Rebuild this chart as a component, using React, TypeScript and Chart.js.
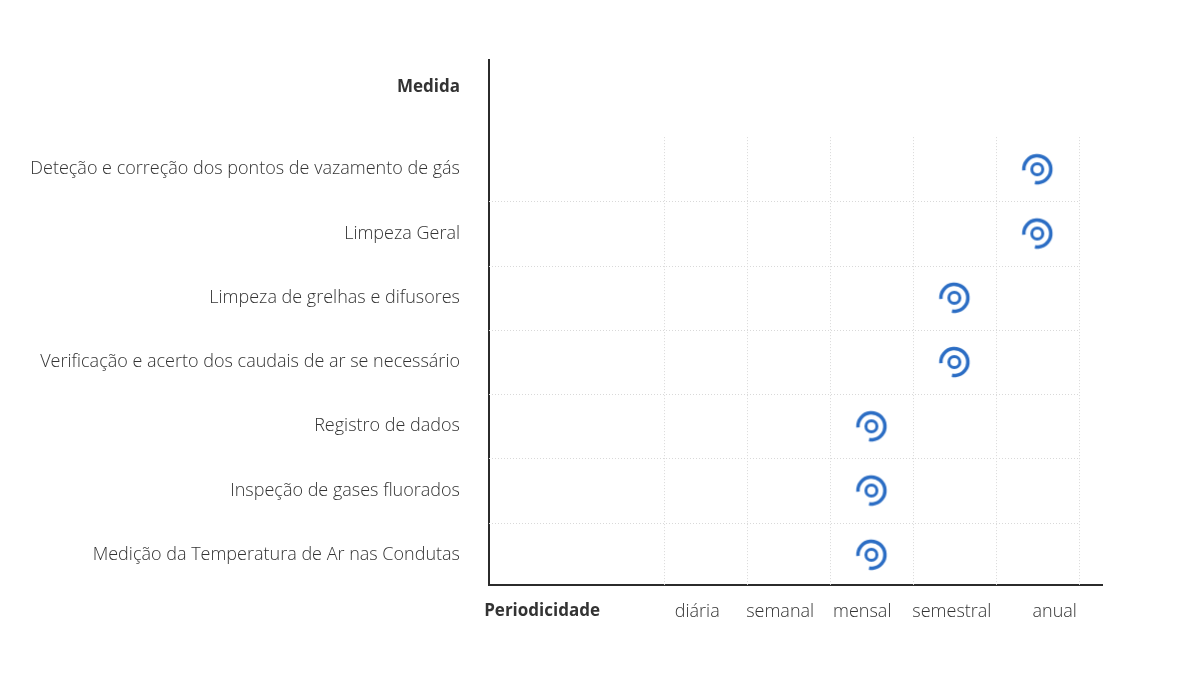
import React, { useEffect, useRef } from "react";
import { Chart, registerables } from "chart.js";

Chart.register(...registerables);

const periodicities = ["diária", "semanal", "mensal", "semestral", "anual"];
const measures = [
  "Deteção e correção dos pontos de vazamento de gás",
  "Limpeza Geral",
  "Limpeza de grelhas e difusores",
  "Verificação e acerto dos caudais de ar se necessário",
  "Registro de dados",
  "Inspeção de gases fluorados",
  "Medição da Temperatura de Ar nas Condutas",
];
const measureFrequency = ["anual", "anual", "semestral", "semestral", "mensal", "mensal", "mensal"];
const yHeader = "Medida";
const xHeader = "Periodicidade";

const BLUE = "#2B6DC4";
const TEXT = "#333333";
const FONT = "'Open Sans', Lato, sans-serif";
const FS = 18;

function makeMarker(): HTMLCanvasElement {
  const c = document.createElement("canvas");
  c.width = 36;
  c.height = 36;
  const g = c.getContext("2d")!;
  g.strokeStyle = BLUE;
  g.lineWidth = 3.5;
  g.beginPath();
  g.arc(18, 18, 13.5, (175 * Math.PI) / 180, (460 * Math.PI) / 180);
  g.stroke();
  g.lineWidth = 3;
  g.beginPath();
  g.arc(18, 18, 5.5, 0, Math.PI * 2);
  g.stroke();
  return c;
}

const gridPlugin = {
  id: "dottedGrid",
  beforeDatasetsDraw(chart: any) {
    const { ctx, scales } = chart;
    const xs = scales.x;
    const ys = scales.y;
    ctx.save();
    ctx.strokeStyle = "#d9d9d9";
    ctx.lineWidth = 1;
    ctx.setLineDash([1, 2]);
    const yTop = ys.getPixelForValue(-0.5);
    const yBot = ys.bottom;
    for (let i = 0; i <= periodicities.length; i++) {
      const px = Math.round(xs.getPixelForValue(i)) + 0.5;
      ctx.beginPath();
      ctx.moveTo(px, yTop);
      ctx.lineTo(px, yBot);
      ctx.stroke();
    }
    const xL = xs.left;
    const xR = xs.getPixelForValue(periodicities.length);
    for (let r = 0; r < measures.length - 1; r++) {
      const py = Math.round(ys.getPixelForValue(r + 0.5)) + 0.5;
      ctx.beginPath();
      ctx.moveTo(xL, py);
      ctx.lineTo(xR, py);
      ctx.stroke();
    }
    ctx.restore();
  },
};

export default function App() {
  const ref = useRef<HTMLCanvasElement>(null);
  useEffect(() => {
    if (!ref.current) return;
    const marker = makeMarker();
    const points = measures.map((_, i) => ({
      x: periodicities.indexOf(measureFrequency[i]) + 0.5,
      y: i,
    }));
    const xLabels = [xHeader, ...periodicities];
    const xLabelPos = [-1.47, 0.4, 1.4, 2.39, 3.47, 4.71];
    const yLabels = [yHeader, ...measures];
    const yLabelPos = [-1.28, ...measures.map((_, i) => i)];
    const chart = new Chart(ref.current, {
      type: "scatter",
      data: {
        datasets: [
          {
            data: points,
            pointStyle: marker as any,
            pointRadius: 18,
            pointHoverRadius: 18,
          },
        ],
      },
      options: {
        animation: false,
        responsive: false,
        events: [],
        layout: { padding: { top: 60, right: 98, bottom: 0, left: 0 } },
        plugins: { legend: { display: false }, tooltip: { enabled: false } },
        scales: {
          x: {
            type: "linear",
            min: -2.11,
            max: 5.28,
            grid: { display: false, drawTicks: false },
            border: { display: true, color: "#2b2b2b", width: 2 },
            afterFit: (s: any) => {
              s.height = 99;
            },
            afterBuildTicks: (s: any) => {
              s.ticks = xLabelPos.map((v) => ({ value: v }));
            },
            ticks: {
              autoSkip: false,
              maxRotation: 0,
              padding: 16,
              color: TEXT,
              callback: (_v: any, i: number) => xLabels[i],
              font: (c: any) =>
                c.index === 0
                  ? { family: FONT, size: 17, weight: "bold" }
                  : { family: FONT, size: FS, weight: 300 },
            },
          },
          y: {
            type: "linear",
            min: -1.7,
            max: 6.47,
            reverse: true,
            grid: { display: false, drawTicks: false },
            border: { display: true, color: "#2b2b2b", width: 2 },
            afterFit: (s: any) => {
              s.width = 489;
            },
            afterBuildTicks: (s: any) => {
              s.ticks = yLabelPos.map((v) => ({ value: v }));
            },
            ticks: {
              autoSkip: false,
              padding: 29,
              color: TEXT,
              callback: (_v: any, i: number) => yLabels[i],
              font: (c: any) =>
                c.index === 0
                  ? { family: FONT, size: 17, weight: "bold" }
                  : { family: FONT, size: FS, weight: 300 },
            },
          },
        },
      },
      plugins: [gridPlugin],
    });
    return () => chart.destroy();
  }, []);
  return (
    <div style={{ position: "absolute", left: 0, top: 0, width: 1200, height: 684, background: "#fff" }}>
      <canvas ref={ref} width={1200} height={684} style={{ display: "block" }} />
    </div>
  );
}
